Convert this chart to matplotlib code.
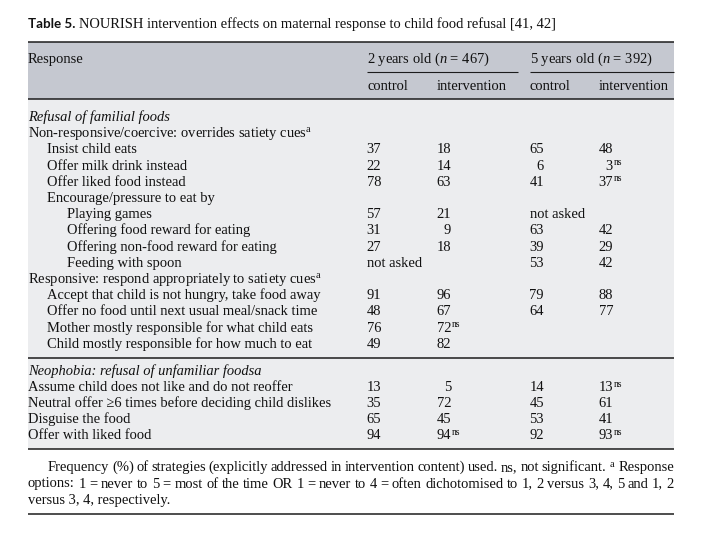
import matplotlib
matplotlib.use("Agg")
import matplotlib.pyplot as plt
from matplotlib.patches import Rectangle

plt.rcParams['font.family'] = ['Liberation Serif', 'DejaVu Serif']
plt.rcParams['mathtext.fontset'] = 'custom'
plt.rcParams['mathtext.rm'] = 'Liberation Serif'
plt.rcParams['mathtext.it'] = 'Liberation Serif:italic'
plt.rcParams['mathtext.bf'] = 'Liberation Serif:bold'

# ---------------- data ----------------
title_bold = "Table 5."
title_rest = "NOURISH intervention effects on maternal response to child food refusal [41, 42]"
header_first = "Response"
header_groups = ["2 years old ($\\mathit{n}$ = 467)", "5 years old ($\\mathit{n}$ = 392)"]
header_sub = ["control", "intervention", "control", "intervention"]

row_labels = [
    "Refusal of familial foods",
    "Non-responsive/coercive: overrides satiety cues$^{\\mathrm{a}}$",
    "Insist child eats",
    "Offer milk drink instead",
    "Offer liked food instead",
    "Encourage/pressure to eat by",
    "Playing games",
    "Offering food reward for eating",
    "Offering non-food reward for eating",
    "Feeding with spoon",
    "Responsive: respond appropriately to satiety cues$^{\\mathrm{a}}$",
    "Accept that child is not hungry, take food away",
    "Offer no food until next usual meal/snack time",
    "Mother mostly responsible for what child eats",
    "Child mostly responsible for how much to eat",
    "Neophobia: refusal of unfamiliar foodsa",
    "Assume child does not like and do not reoffer",
    "Neutral offer \u22656 times before deciding child dislikes",
    "Disguise the food",
    "Offer with liked food",
]
row_levels = [0, 0, 1, 1, 1, 1, 2, 2, 2, 2, 0, 1, 1, 1, 1, 0, 0, 0, 0, 0]
row_italic = [True] + [False] * 14 + [True] + [False] * 4

ctrl_2y = ["", "", "37", "22", "78", "", "57", "31", "27", "not asked", "", "91", "48", "76", "49",
           "", "13", "35", "65", "94"]
int_2y = ["", "", "18", "14", "63", "", "21", "9", "18", "", "", "96", "67", "72ns", "82",
          "", "5", "72", "45", "94ns"]
ctrl_5y = ["", "", "65", "6", "41", "", "not asked", "63", "39", "53", "", "79", "64", "", "",
           "", "14", "45", "53", "92"]
int_5y = ["", "", "48", "3ns", "37ns", "", "", "42", "29", "42", "", "88", "77", "", "",
          "", "13ns", "61", "41", "93ns"]

footnote_lines = [
    "Frequency (%) of strategies (explicitly addressed in intervention content) used. ns, not significant. $^{\\mathrm{a}}$ Response",
    "options: 1 = never to 5 = most of the time OR 1 = never to 4 = often dichotomised to 1, 2 versus 3, 4, 5 and 1, 2",
    "versus 3, 4, respectively.",
]

# ---------------- layout ----------------
W, H = 714, 538
FS = 10.45
LEFT, RIGHT = 28, 674
col_start = [367, 437, 530, 599]
col_end = [381, 451, 544, 613]
indent = [28, 47, 67]
TXT = '#111111'

fig = plt.figure(figsize=(W / 100, H / 100), dpi=100)
ax = fig.add_axes([0, 0, 1, 1])
ax.set_xlim(0, W)
ax.set_ylim(H, 0)
ax.axis('off')

header_col = '#c5c8d0'
body_col = '#ecedef'
line_col = '#1c1c1c'

ax.add_patch(Rectangle((LEFT, 41.7), RIGHT - LEFT, 99 - 41.7, color=header_col, lw=0, zorder=0))
ax.add_patch(Rectangle((LEFT, 99), RIGHT - LEFT, 449 - 99, color=body_col, lw=0, zorder=0))
for yy in [41.7, 99, 358, 449, 514]:
    ax.plot([LEFT, RIGHT], [yy, yy], color=line_col, lw=1.1, solid_capstyle='butt', zorder=2)
ax.plot([367, 518], [71.7, 71.7], color=line_col, lw=0.8, solid_capstyle='butt', zorder=2)
ax.plot([530, RIGHT], [71.7, 71.7], color=line_col, lw=0.8, solid_capstyle='butt', zorder=2)

fig.canvas.draw()
renderer = fig.canvas.get_renderer()

def width_of(t):
    return t.get_window_extent(renderer).width

# title
tb = ax.text(LEFT, 28, title_bold, fontfamily=['Lato', 'DejaVu Sans'], fontweight='bold',
             fontsize=9.6, va='baseline', ha='left', color=TXT)
wb = width_of(tb)
ax.text(LEFT + wb + 3.5, 28, title_rest, fontsize=FS, va='baseline', ha='left', color=TXT)

# header
ax.text(LEFT, 63, header_first, fontsize=FS, va='baseline', ha='left', color=TXT)
ax.text(col_start[0], 63, header_groups[0], fontsize=FS, va='baseline', ha='left', color=TXT)
ax.text(col_start[2], 63, header_groups[1], fontsize=FS, va='baseline', ha='left', color=TXT)
for x, s in zip(col_start, header_sub):
    ax.text(x, 89.5, s, fontsize=FS, va='baseline', ha='left', color=TXT)

# body rows
y1 = [121 + 16.2 * i for i in range(15)]
y2 = [375 + 16.0 * i for i in range(5)]
row_y = y1 + y2

def put_value(ci, y, s):
    if not s:
        return
    if s == "not asked":
        ax.text(col_start[ci], y, s, fontsize=FS, va='baseline', ha='left', color=TXT)
        return
    sup = ""
    if s.endswith("ns"):
        s, sup = s[:-2], "ns"
    ax.text(col_end[ci], y, s, fontsize=FS, va='baseline', ha='right', color=TXT)
    if sup:
        ax.text(col_end[ci] + 0.8, y - 4.4, sup, fontsize=FS * 0.66, va='baseline', ha='left',
                color=TXT)

for i, lab in enumerate(row_labels):
    y = row_y[i]
    ax.text(indent[row_levels[i]], y, lab, fontsize=FS, va='baseline', ha='left',
            style='italic' if row_italic[i] else 'normal', color=TXT)
    for ci, col in enumerate([ctrl_2y, int_2y, ctrl_5y, int_5y]):
        put_value(ci, y, col[i])

# footnote, justified
foot_y = [471, 487.5, 504]
foot_x0 = [48, LEFT, LEFT]
for li, line in enumerate(footnote_lines):
    words = line.split(" ")
    if li == len(footnote_lines) - 1:
        ax.text(foot_x0[li], foot_y[li], line, fontsize=FS, va='baseline', ha='left', color=TXT)
        continue
    ts = [ax.text(0, foot_y[li], w, fontsize=FS, va='baseline', ha='left', color=TXT) for w in words]
    ws = [width_of(t) for t in ts]
    gap = (RIGHT - foot_x0[li] - sum(ws)) / (len(words) - 1)
    x = foot_x0[li]
    for t, w in zip(ts, ws):
        t.set_x(x)
        x += w + gap

fig.savefig("out.png", dpi=100, facecolor='white')
